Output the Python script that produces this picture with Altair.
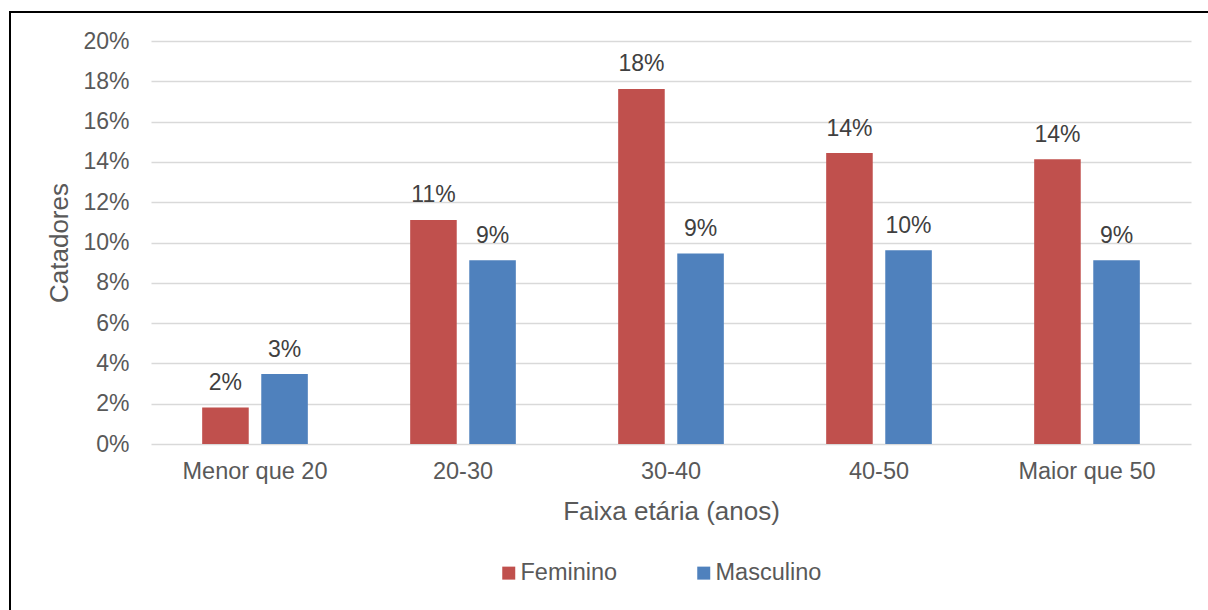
import altair as alt
import pandas as pd

# Age brackets and share of waste pickers (catadores) by sex
faixas = ["Menor que 20", "20-30", "30-40", "40-50", "Maior que 50"]
feminino = [0.0181, 0.1112, 0.1762, 0.1444, 0.1413]
masculino = [0.0347, 0.0912, 0.0945, 0.0962, 0.0912]
sexos = ["Feminino", "Masculino"]
cores = ["#C0504D", "#4F81BD"]
y_ticks = [0, 0.02, 0.04, 0.06, 0.08, 0.10, 0.12, 0.14, 0.16, 0.18, 0.20]

rows = []
for faixa, f, m in zip(faixas, feminino, masculino):
    rows.append({"faixa": faixa, "sexo": "Feminino", "valor": f})
    rows.append({"faixa": faixa, "sexo": "Masculino", "valor": m})
df = pd.DataFrame(rows)

FONT = "Liberation Sans"
W, H = 1040, 403
PAD_L, PAD_T = 151, 41

x_enc = alt.X(
    "faixa:N",
    sort=faixas,
    scale=alt.Scale(paddingInner=0.492, paddingOuter=0.246),
    axis=alt.Axis(
        title="Faixa etária (anos)",
        labelAngle=0,
        labelFontSize=23.5,
        labelColor="#595959",
        labelFont=FONT,
        labelPadding=15,
        ticks=False,
        domain=False,
        titleFontSize=26,
        titleFont=FONT,
        titleFontWeight="normal",
        titleColor="#595959",
        titleBaseline="alphabetic",
        titleY=75,
    ),
)
xoff_enc = alt.XOffset(
    "sexo:N", sort=sexos, scale=alt.Scale(paddingInner=0.212, paddingOuter=0)
)
y_enc = alt.Y(
    "valor:Q",
    scale=alt.Scale(domain=[0, 0.2], nice=False),
    axis=alt.Axis(
        title="Catadores",
        values=y_ticks,
        format=".0%",
        labelFontSize=23,
        labelColor="#595959",
        labelFont=FONT,
        labelPadding=22,
        ticks=False,
        domain=False,
        grid=True,
        gridColor="#D9D9D9",
        gridWidth=1.5,
        titleFontSize=26,
        titleFont=FONT,
        titleFontWeight="normal",
        titleColor="#595959",
        titleBaseline="alphabetic",
        titleX=-84,
    ),
)

bars = alt.Chart(df).mark_bar().encode(
    x=x_enc,
    xOffset=xoff_enc,
    y=y_enc,
    color=alt.Color(
        "sexo:N",
        sort=sexos,
        scale=alt.Scale(domain=sexos, range=cores),
        legend=alt.Legend(
            title=None,
            orient="none",
            direction="horizontal",
            legendX=346,
            legendY=520,
            symbolType="square",
            symbolSize=169,
            symbolStrokeWidth=0,
            labelFontSize=23.5,
            labelFont=FONT,
            labelColor="#595959",
            labelOffset=0,
            columnPadding=74,
        ),
    ),
)

labels = alt.Chart(df).mark_text(
    baseline="alphabetic",
    dy=-17.5,
    fontSize=23,
    font=FONT,
    color="#404040",
).encode(
    x=alt.X("faixa:N", sort=faixas),
    xOffset=alt.XOffset("sexo:N", sort=sexos),
    y="valor:Q",
    text=alt.Text("valor:Q", format=".0%"),
)

# Frame around the figure (top and left edges fall inside the canvas)
frame = alt.Chart(alt.Data(values=[{}])).mark_rect(
    fill=None, stroke="#000000", strokeWidth=2
).encode(
    x=alt.value(10 - PAD_L),
    y=alt.value(12 - PAD_T),
    x2=alt.value(1230 - PAD_L),
    y2=alt.value(640 - PAD_T),
)

chart = (
    alt.layer(bars, labels, frame)
    .properties(
        width=W,
        height=H,
        padding={"left": PAD_L, "top": PAD_T, "right": 1208 - PAD_L - W, "bottom": 610 - PAD_T - H},
        autosize=alt.AutoSizeParams(type="none"),
        background="#FFFFFF",
    )
    .configure_view(stroke=None)
)

chart.save("out.html", embed_options={"renderer": "svg", "actions": False})
